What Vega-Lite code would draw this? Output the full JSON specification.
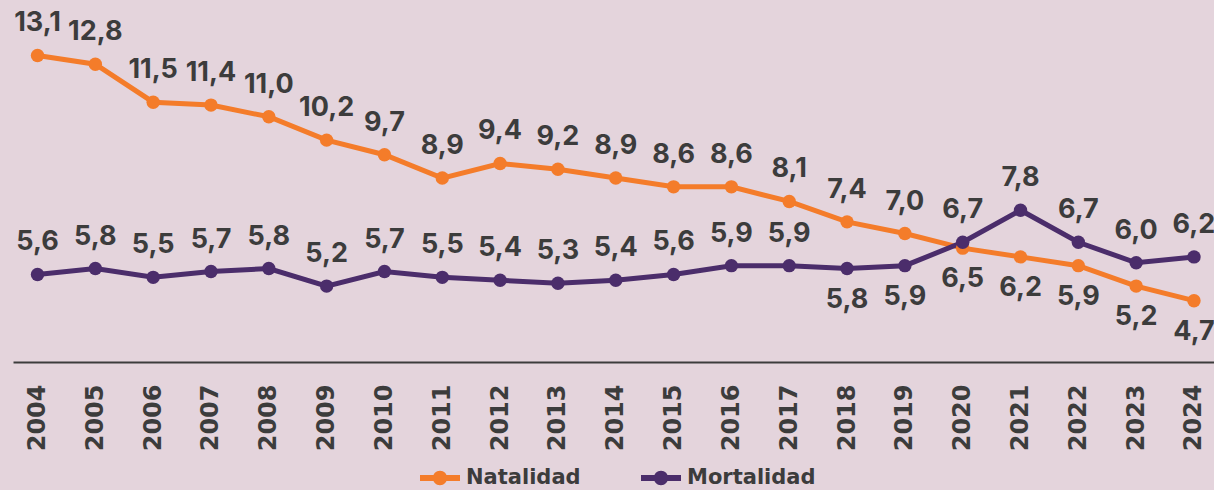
{
  "$schema": "https://vega.github.io/schema/vega-lite/v6.json",
  "autosize": "none",
  "width": 1201,
  "height": 362,
  "padding": {"left": 13, "top": 0, "right": 0, "bottom": 128},
  "background": "#e4d4dc",
  "config": {
    "view": {"stroke": null},
    "locale": {"number": {"decimal": ",", "thousands": ".", "grouping": [3], "currency": ["", " €"]}}
  },
  "data": {"values": [
    {"year": 2004, "serie": "Natalidad", "valor": 13.1},
    {"year": 2005, "serie": "Natalidad", "valor": 12.8},
    {"year": 2006, "serie": "Natalidad", "valor": 11.5},
    {"year": 2007, "serie": "Natalidad", "valor": 11.4},
    {"year": 2008, "serie": "Natalidad", "valor": 11.0},
    {"year": 2009, "serie": "Natalidad", "valor": 10.2},
    {"year": 2010, "serie": "Natalidad", "valor": 9.7},
    {"year": 2011, "serie": "Natalidad", "valor": 8.9},
    {"year": 2012, "serie": "Natalidad", "valor": 9.4},
    {"year": 2013, "serie": "Natalidad", "valor": 9.2},
    {"year": 2014, "serie": "Natalidad", "valor": 8.9},
    {"year": 2015, "serie": "Natalidad", "valor": 8.6},
    {"year": 2016, "serie": "Natalidad", "valor": 8.6},
    {"year": 2017, "serie": "Natalidad", "valor": 8.1},
    {"year": 2018, "serie": "Natalidad", "valor": 7.4},
    {"year": 2019, "serie": "Natalidad", "valor": 7.0},
    {"year": 2020, "serie": "Natalidad", "valor": 6.5},
    {"year": 2021, "serie": "Natalidad", "valor": 6.2},
    {"year": 2022, "serie": "Natalidad", "valor": 5.9},
    {"year": 2023, "serie": "Natalidad", "valor": 5.2},
    {"year": 2024, "serie": "Natalidad", "valor": 4.7},
    {"year": 2004, "serie": "Mortalidad", "valor": 5.6},
    {"year": 2005, "serie": "Mortalidad", "valor": 5.8},
    {"year": 2006, "serie": "Mortalidad", "valor": 5.5},
    {"year": 2007, "serie": "Mortalidad", "valor": 5.7},
    {"year": 2008, "serie": "Mortalidad", "valor": 5.8},
    {"year": 2009, "serie": "Mortalidad", "valor": 5.2},
    {"year": 2010, "serie": "Mortalidad", "valor": 5.7},
    {"year": 2011, "serie": "Mortalidad", "valor": 5.5},
    {"year": 2012, "serie": "Mortalidad", "valor": 5.4},
    {"year": 2013, "serie": "Mortalidad", "valor": 5.3},
    {"year": 2014, "serie": "Mortalidad", "valor": 5.4},
    {"year": 2015, "serie": "Mortalidad", "valor": 5.6},
    {"year": 2016, "serie": "Mortalidad", "valor": 5.9},
    {"year": 2017, "serie": "Mortalidad", "valor": 5.9},
    {"year": 2018, "serie": "Mortalidad", "valor": 5.8},
    {"year": 2019, "serie": "Mortalidad", "valor": 5.9},
    {"year": 2020, "serie": "Mortalidad", "valor": 6.7},
    {"year": 2021, "serie": "Mortalidad", "valor": 7.8},
    {"year": 2022, "serie": "Mortalidad", "valor": 6.7},
    {"year": 2023, "serie": "Mortalidad", "valor": 6.0},
    {"year": 2024, "serie": "Mortalidad", "valor": 6.2}
  ]},
  "encoding": {
    "x": {
      "field": "year", "type": "quantitative",
      "scale": {"domain": [2003.576, 2024.346], "nice": false, "zero": false},
      "axis": {
        "title": null,
        "values": [2004,2005,2006,2007,2008,2009,2010,2011,2012,2013,2014,2015,2016,2017,2018,2019,2020,2021,2022,2023,2024],
        "format": "d",
        "labelAngle": -90,
        "labelAlign": "right",
        "labelBaseline": "middle",
        "labelFont": "DejaVu Sans",
        "labelFontWeight": "bold",
        "labelFontSize": 24,
        "labelColor": "#3c3c3c",
        "labelPadding": 22,
        "labelFlush": false,
        "labelOverlap": false,
        "ticks": false,
        "grid": false,
        "domainColor": "#3c3c3c",
        "domainWidth": 2
      }
    },
    "y": {
      "field": "valor", "type": "quantitative",
      "scale": {"domain": [2.6, 15.0], "nice": false, "zero": false},
      "axis": null
    },
    "color": {
      "field": "serie", "type": "nominal",
      "scale": {"domain": ["Natalidad", "Mortalidad"], "range": ["#f47c2a", "#4b2d6b"]},
      "legend": {
        "title": null,
        "orient": "none",
        "direction": "horizontal",
        "columns": 2,
        "legendX": 407,
        "legendY": 458,
        "padding": 0,
        "columnPadding": 60,
        "symbolType": "M-1,-0.15H1V0.15H-1Z M-0.36,0A0.36,0.36,0,1,1,0.36,0A0.36,0.36,0,1,1,-0.36,0Z",
        "symbolSize": 1600,
        "symbolStrokeWidth": 0,
        "labelFont": "DejaVu Sans",
        "labelFontWeight": "bold",
        "labelFontSize": 21,
        "labelColor": "#3c3c3c",
        "labelOffset": 6,
        "encode": {"symbols": {"update": {"fill": {"scale": "color", "field": "value"}, "fillOpacity": {"value": 1}, "strokeWidth": {"value": 0}}}}
      }
    }
  },
  "layer": [
    {"mark": {"type": "line", "strokeWidth": 5}},
    {"mark": {"type": "point", "filled": true, "opacity": 1, "size": 180}},
    {
      "transform": [{"filter": "!((datum.serie == 'Natalidad' && datum.year >= 2020) || (datum.serie == 'Mortalidad' && (datum.year == 2018 || datum.year == 2019)))"}],
      "mark": {"type": "text", "font": "Inter", "fontWeight": "bold", "fontSize": 27, "baseline": "alphabetic", "dy": -24},
      "encoding": {"text": {"field": "valor", "type": "quantitative", "format": ".1f"}, "color": {"value": "#3c3c3c"}}
    },
    {
      "transform": [{"filter": "(datum.serie == 'Natalidad' && datum.year >= 2020) || (datum.serie == 'Mortalidad' && (datum.year == 2018 || datum.year == 2019))"}],
      "mark": {"type": "text", "font": "Inter", "fontWeight": "bold", "fontSize": 27, "baseline": "alphabetic", "dy": 39},
      "encoding": {"text": {"field": "valor", "type": "quantitative", "format": ".1f"}, "color": {"value": "#3c3c3c"}}
    }
  ]
}
